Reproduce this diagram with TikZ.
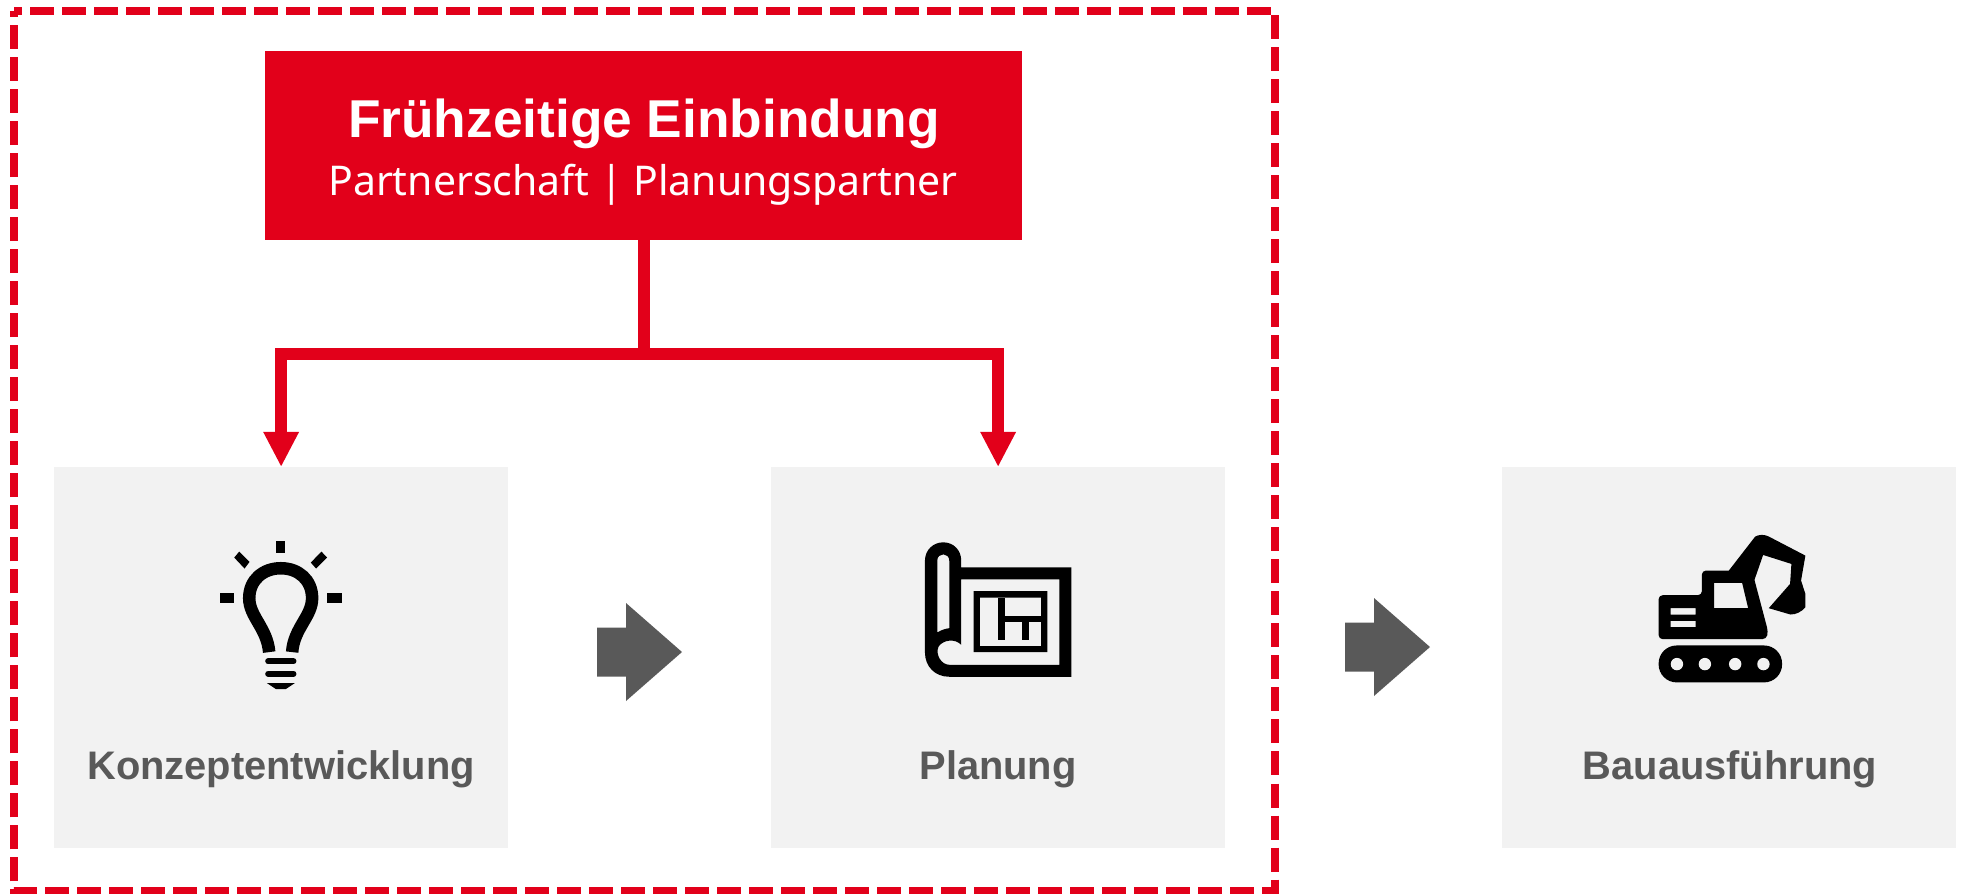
\documentclass[tikz,border=0pt]{standalone}
\usepackage{fontspec}
\setmainfont{Liberation Sans}
\newfontfamily\subfont{Noto Sans}
\usepackage{xcolor}
\usepackage{tikz}
\usetikzlibrary{arrows.meta}
\usetikzlibrary{positioning}
\definecolor{brandred}{HTML}{E2001A}
\definecolor{panelgray}{HTML}{F2F2F2}
\definecolor{flowgray}{HTML}{595959}
\tikzset{
  % Define standard arrow tip
  >={Triangle[length=0.35cm, width=0.33cm]},
  panel/.style={rectangle, anchor=north west, fill=panelgray, inner sep=0, outer sep=0,
    minimum width=4.54cm, minimum height=3.81cm},
  panellabel/.style={anchor=base, font=\fontsize{11.33pt}{13pt}\selectfont\bfseries, text=flowgray, inner sep=0},
  redline/.style={draw=brandred, line width=0.12cm, miter limit=10},
  flowarrow/.pic={
    \fill[flowgray] (0,-24.5) -- (29,-24.5) -- (29,-49) -- (85,0) -- (29,49) -- (29,24.5) -- (0,24.5) -- cycle;
  }
}

\begin{document}
\begin{tikzpicture}[x=0.01cm, y=-0.01cm]
  \useasboundingbox (0,0) rectangle (1965,893);

  \node[rectangle, anchor=north west, outer sep=0, inner sep=0,
    minimum width=12.6cm, minimum height=8.79cm] (frame) at (14,11) {};
  \draw[draw=brandred, line width=0.08cm, dash pattern=on 0.24cm off 0.08cm, dash phase=0.16cm]
    (frame.north west) -- (frame.north east) -- (frame.south east) -- (frame.south west) -- cycle;

  \node[rectangle, anchor=north west, fill=brandred, inner sep=0, outer sep=0,
    minimum width=7.57cm, minimum height=1.89cm] (head) at (265,51) {};
  \node[anchor=base, text=white, inner sep=0, font=\fontsize{15.15pt}{17pt}\selectfont\bfseries] (headtitle) at (644,137) {Frühzeitige Einbindung};
  \node[anchor=base, text=white, inner sep=0, font=\fontsize{11.65pt}{14pt}\subfont] (headsub) at (643,195) {Partnerschaft | Planungspartner};

  \node[panel] (konzept) at (54,467) {};
  \node[panel] (planung) at (771,467) {};
  \node[panel] (bau) at (1502,467) {};

  \node[panellabel] (konzeptlabel) at (281,779) {Konzeptentwicklung};
  \node[panellabel] (planunglabel) at (998,779) {Planung};
  \node[panellabel] (baulabel) at (1730,779) {Bauausführung};

  % connectors
  \coordinate (level) at (0,354);
  \coordinate (bus) at (head.south |- level);
  \draw[redline] (head.south) -- (bus);
  \draw[redline, ->] (bus) -| (konzept.north);
  \draw[redline, ->] (bus) -| (planung.north);

  % flow arrows
  \pic (flowa) at (597,652) {flowarrow};
  \pic (flowb) at (1345,647) {flowarrow};

  % bulb
  \begin{scope}[shift={(180,500)}, x=0.00333cm, y=-0.00333cm]
    \draw[line width=0.125cm, line cap=butt]
      (268,457) .. controls (262,385) and (208,350) .. (208,295)
      .. controls (208,240) and (250,205) .. (303,205)
      .. controls (356,205) and (397,240) .. (397,295)
      .. controls (397,350) and (342,385) .. (337,457);
    \fill (288,123) rectangle (317,160);
    \fill (120,280) rectangle (162,309);
    \fill (443,280) rectangle (486,309);
    \fill (178,155) -- (209,186) -- (194,206) -- (163,173) -- cycle;
    \fill (425,155) -- (442,173) -- (409,206) -- (393,188) -- cycle;
    \draw[line width=0.06cm, line cap=round] (265,485) -- (341,485);
    \draw[line width=0.06cm, line cap=round] (265,522) -- (341,522);
    \fill (261,550) -- (345,550) -- (318,568) -- (288,568) -- cycle;
  \end{scope}

  % plan
  \begin{scope}[shift={(900,520)}, x=0.00333cm, y=-0.00333cm]
    \fill[even odd rule]
      (184,142) -- (515,142) -- (515,471) -- (148,471)
      .. controls (105,471) and (75,440) .. (75,398)
      -- (75,122) .. controls (75,90) and (100,67) .. (130,67)
      .. controls (160,67) and (184,90) .. (184,122) -- cycle
      (184,178) -- (184,375) .. controls (165,355) and (130,360) .. (116,380)
      .. controls (105,405) and (125,435) .. (148,435)
      -- (479,435) -- (479,178) -- cycle
      (112,122) -- (112,338) .. controls (125,330) and (135,327) .. (148,325)
      -- (148,122) .. controls (148,97) and (112,97) .. (112,122) -- cycle;
    \fill[even odd rule] (221,214) rectangle (443,397) (240,233) rectangle (424,379);
    \fill (295,233) rectangle (314,361);
    \fill (368,306) rectangle (387,361);
    \fill (314,288) rectangle (424,306);
  \end{scope}

  % excavator
  \begin{scope}[shift={(1630,510)}, x=0.00333cm, y=-0.00333cm]
    \fill[even odd rule]
      [rounded corners=0.04cm] (86,256) -- (216,256) -- (216,182)
      [sharp corners] -- (297,182) -- (376,80) [rounded corners=0.03cm] -- (384,75) -- (408,75)
      [sharp corners] -- (527,137) -- (514,212) -- (527,252) -- (527,292)
      .. controls (515,306) and (500,314) .. (482,314) -- (417,295)
      -- (481,222) -- (485,162) -- (400,135) -- (374,210)
      [rounded corners=0.04cm] -- (415,365) -- (410,388) -- (86,388) -- cycle
      [sharp corners]
      (253,219) -- (337,219) -- (355,295) -- (253,295) -- cycle
      (122,295) rectangle (197,314)
      (122,333) rectangle (197,352);
    \fill[rounded corners=0.18cm] (86,407) rectangle (457,518);
    \fill[panelgray] (141,463) circle (0.062cm) (225,463) circle (0.062cm)
      (316,463) circle (0.062cm) (401,463) circle (0.062cm);
  \end{scope}
\end{tikzpicture}
\end{document}
